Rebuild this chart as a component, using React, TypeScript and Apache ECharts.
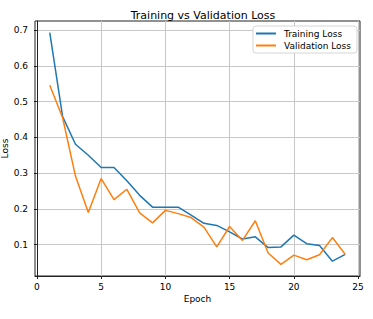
import React, { useEffect, useRef } from "react";
import * as echarts from "echarts";

const epochs = [1, 2, 3, 4, 5, 6, 7, 8, 9, 10, 11, 12, 13, 14, 15, 16, 17, 18, 19, 20, 21, 22, 23, 24];
const trainingLoss = [0.693, 0.458, 0.381, 0.35, 0.316, 0.316, 0.279, 0.238, 0.205, 0.205, 0.205, 0.183, 0.16, 0.154, 0.136, 0.116, 0.122, 0.092, 0.094, 0.127, 0.103, 0.098, 0.054, 0.073];
const validationLoss = [0.546, 0.455, 0.292, 0.19, 0.285, 0.226, 0.255, 0.189, 0.161, 0.196, 0.187, 0.176, 0.149, 0.094, 0.151, 0.112, 0.167, 0.077, 0.045, 0.071, 0.058, 0.072, 0.12, 0.073];
const xTicks = [0, 5, 10, 15, 20, 25];
const yTicks = [0.1, 0.2, 0.3, 0.4, 0.5, 0.6, 0.7];

const FONT = "DejaVu Sans";

export default function App() {
  const ref = useRef<HTMLDivElement>(null);
  useEffect(() => {
    if (!ref.current) return;
    const chart = echarts.init(ref.current, null, { renderer: "svg" });
    const all = trainingLoss.concat(validationLoss);
    const yMinD = Math.min(...all);
    const yMaxD = Math.max(...all);
    const ym = (yMaxD - yMinD) * 0.05;
    const xm = (epochs[epochs.length - 1] - epochs[0]) * 0.05;
    chart.setOption({
      animation: false,
      textStyle: { fontFamily: FONT },
      title: {
        text: "Training vs Validation Loss",
        left: 198,
        top: 5,
        textAlign: "center",
        textStyle: { fontFamily: FONT, fontSize: 11, fontWeight: "normal", color: "#000" },
      },
      legend: {
        orient: "vertical",
        right: 16,
        top: 26,
        padding: [3, 6, 3, 3],
        itemGap: 3,
        itemWidth: 20,
        itemHeight: 2,
        icon: "rect",
        backgroundColor: "#fff",
        borderColor: "#d5d5d5",
        borderWidth: 1,
        borderRadius: 3,
        textStyle: { fontFamily: FONT, fontSize: 9, color: "#000", padding: [0, 0, 0, 3] },
        data: ["Training Loss", "Validation Loss"],
      },
      grid: {
        left: 35,
        right: 13,
        top: 21,
        bottom: 43,
        containLabel: false,
        outerBoundsMode: "none",
        show: true,
        borderColor: "#222",
        borderWidth: 1,
      },
      xAxis: {
        type: "value",
        min: epochs[0] - xm,
        max: epochs[epochs.length - 1] + xm,
        name: "Epoch",
        nameLocation: "middle",
        nameGap: 18,
        nameMoveOverlap: false,
        nameTextStyle: { fontFamily: FONT, fontSize: 9, color: "#000" },
        axisLine: { show: true, lineStyle: { color: "#222", width: 1 } },
        axisTick: { show: true, length: 3, customValues: xTicks, lineStyle: { color: "#222" } },
        axisLabel: { customValues: xTicks, margin: 6, fontFamily: FONT, fontSize: 9, color: "#000" },
        splitLine: { show: true, lineStyle: { color: "#c8c8c8", width: 1 } },
      },
      yAxis: {
        type: "value",
        min: yMinD - ym,
        max: yMaxD + ym,
        name: "Loss",
        nameLocation: "middle",
        nameGap: 26,
        nameMoveOverlap: false,
        nameTextStyle: { fontFamily: FONT, fontSize: 9, color: "#000" },
        axisLine: { show: true, lineStyle: { color: "#222", width: 1 } },
        axisTick: { show: true, length: 3, customValues: yTicks, lineStyle: { color: "#222" } },
        axisLabel: {
          customValues: yTicks,
          margin: 7,
          fontFamily: FONT,
          fontSize: 9,
          color: "#000",
          formatter: (v: number) => v.toFixed(1),
        },
        splitLine: { show: true, lineStyle: { color: "#c8c8c8", width: 1 } },
      },
      series: [
        {
          name: "Training Loss",
          type: "line",
          data: epochs.map((e, i) => [e, trainingLoss[i]]),
          showSymbol: false,
          symbol: "none",
          lineStyle: { color: "#1f77b4", width: 1.5 },
          itemStyle: { color: "#1f77b4" },
        },
        {
          name: "Validation Loss",
          type: "line",
          data: epochs.map((e, i) => [e, validationLoss[i]]),
          showSymbol: false,
          symbol: "none",
          lineStyle: { color: "#ff7f0e", width: 1.5 },
          itemStyle: { color: "#ff7f0e" },
        },
      ],
    });
    return () => chart.dispose();
  }, []);
  return <div ref={ref} style={{ width: 373, height: 319, position: "absolute", left: 0, top: 0 }} />;
}
